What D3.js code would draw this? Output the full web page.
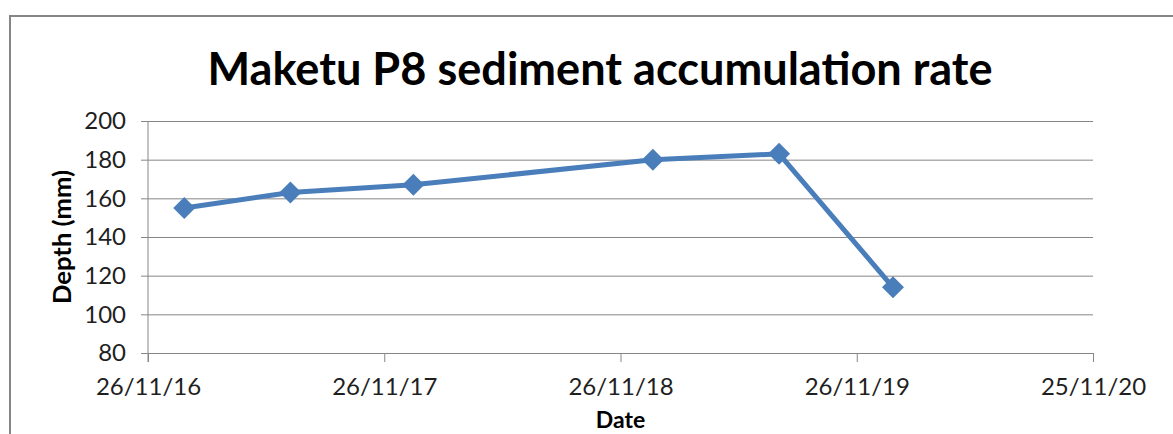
<!DOCTYPE html>
<html>
<head>
<meta charset="utf-8">
<script src="https://cdn.jsdelivr.net/npm/d3@7"></script>
<style>
    body { margin: 0; background: #fff; }
    svg text { font-family: Lato, "Open Sans", sans-serif; }
</style>
</head>
<body>
<div id="chart"></div>
<script>
// datos
var sampleDates = ["2017-01-21", "2017-07-04", "2018-01-10", "2019-01-15", "2019-07-29", "2020-01-21"];
var depths = [155, 163, 167, 180, 183, 114];
var yTicks = [80, 100, 120, 140, 160, 180, 200];
var xStart = "2016-11-26";
var xEnd = "2020-11-25";

var W = 1173, H = 434;
var margin = {top: 121, right: 80, bottom: 81, left: 148};
var width = W - margin.left - margin.right;
var height = H - margin.top - margin.bottom;

var parse = d3.utcParse("%Y-%m-%d");
var fmt = d3.utcFormat("%d/%m/%y");

var data = sampleDates.map(function(d, i) { return {date: parse(d), depth: depths[i]}; });

var svgRoot = d3.select("#chart").append("svg")
    .attr("width", W)
    .attr("height", H);

// borde del area del grafico
svgRoot.append("rect")
    .attr("x", 10).attr("y", 16)
    .attr("width", W + 20).attr("height", H + 20)
    .attr("fill", "none")
    .attr("stroke", "#868686")
    .attr("stroke-width", 2);

svgRoot.append("text")
    .attr("x", 600).attr("y", 85)
    .attr("text-anchor", "middle")
    .attr("font-size", 46)
    .attr("font-weight", "bold")
    .attr("fill", "#000")
    .attr("textLength", 785)
    .attr("lengthAdjust", "spacingAndGlyphs")
    .text("Maketu P8 sediment accumulation rate");

var svg = svgRoot.append("g")
    .attr("transform", "translate(" + margin.left + "," + margin.top + ")");

var x = d3.scaleUtc().domain([parse(xStart), parse(xEnd)]).range([0, width]);
var y = d3.scaleLinear().domain([80, 200]).range([height, 0]);

var xTicks = d3.range(5).map(function(i) { return d3.utcDay.offset(parse(xStart), 365 * i); });

// lineas de cuadricula
svg.append("g")
    .attr("class", "y-axis")
    .call(d3.axisLeft(y).tickValues(yTicks).tickSize(-width).tickSizeOuter(0).tickPadding(22))
    .call(function(g) {
        g.select(".domain").remove();
        g.selectAll(".tick line").attr("stroke", "#868686").attr("x1", -7);
        g.selectAll(".tick text").attr("font-size", 24).attr("fill", "#1f1f1f");
    });

svg.append("g")
    .attr("class", "x-axis")
    .attr("transform", "translate(0," + height + ")")
    .call(d3.axisBottom(x).tickValues(xTicks).tickFormat(fmt).tickSize(9).tickSizeOuter(0).tickPadding(16))
    .call(function(g) {
        g.select(".domain").attr("stroke", "#868686");
        g.selectAll(".tick line").attr("stroke", "#868686");
        g.selectAll(".tick text").attr("font-size", 24).attr("fill", "#1f1f1f");
    });

svg.append("line")
    .attr("x1", 0).attr("x2", 0)
    .attr("y1", 0).attr("y2", height + 9)
    .attr("stroke", "#868686");

var line = d3.line()
    .x(function(d) { return x(d.date); })
    .y(function(d) { return y(d.depth); });

svg.append("path")
    .datum(data)
    .attr("fill", "none")
    .attr("stroke", "#4A7EBB")
    .attr("stroke-width", 5)
    .attr("stroke-linejoin", "round")
    .attr("d", line);

svg.selectAll(".marker")
    .data(data)
    .enter().append("path")
    .attr("class", "marker")
    .attr("transform", function(d) { return "translate(" + x(d.date) + "," + y(d.depth) + ")"; })
    .attr("d", "M0,-11L11,0L0,11L-11,0Z")
    .attr("fill", "#4A7EBB");

// titulos de ejes
svgRoot.append("text")
    .attr("x", margin.left + width / 2).attr("y", 428)
    .attr("text-anchor", "middle")
    .attr("font-size", 23)
    .attr("font-weight", "bold")
    .text("Date");

svgRoot.append("text")
    .attr("transform", "translate(71," + (margin.top + height / 2) + ") rotate(-90)")
    .attr("text-anchor", "middle")
    .attr("font-size", 24)
    .attr("font-weight", "bold")
    .attr("textLength", 134)
    .attr("lengthAdjust", "spacingAndGlyphs")
    .text("Depth (mm)");
</script>
</body>
</html>
